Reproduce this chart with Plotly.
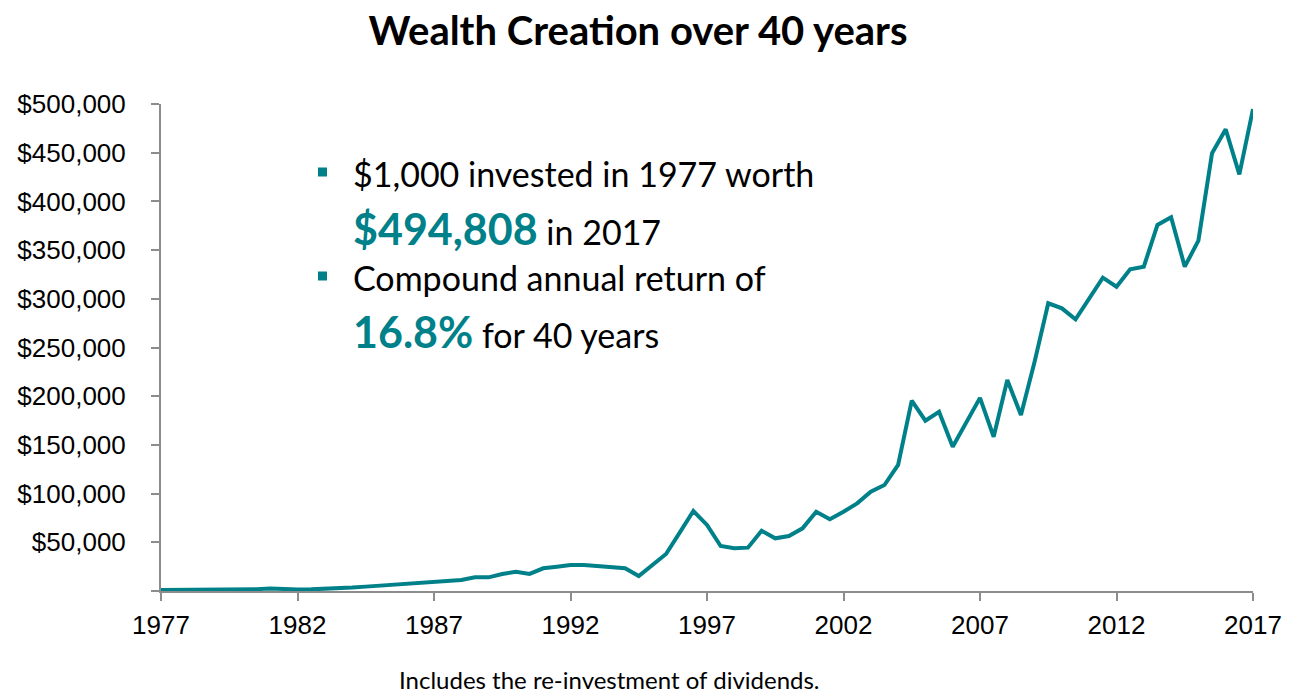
import plotly.graph_objects as go

# Semiannual observations, 1977.0 .. 2017.0
years = [1977 + 0.5 * i for i in range(81)]
values = [
    1000, 1000, 1000, 1100, 1200, 1500, 1700, 1900, 2500, 1800,   # 1977.0-1981.5
    1600, 1700, 2000, 2600, 3500, 4500, 5500, 6000, 6500, 7500,   # 1982.0-1986.5
    9300, 9600, 11300, 14000, 14000, 17500, 19800, 17500, 23300, 25000,  # 1987.0-1991.5
    26700, 26700, 25700, 24600, 23300, 15400, 27000, 38000, 60000, 82100,  # 1992.0-1996.5
    67800, 46200, 43800, 44500, 61900, 54100, 56500, 64300, 81400, 73600,  # 1997.0-2001.5
    81400, 90000, 102000, 108800, 129400, 195400, 174900, 184000, 148200, 173000,  # 2002.0-2006.5
    198300, 158400, 216600, 180700, 235400, 295400, 290200, 279000, 299500, 321700,  # 2007.0-2011.5
    312400, 330300, 333000, 375800, 383700, 333000, 359700, 449400, 474000, 427800,  # 2012.0-2016.5
    494808,                                                                  # 2017.0
]

x_ticks = [1977, 1982, 1987, 1992, 1997, 2002, 2007, 2012, 2017]
y_ticks = [0, 50000, 100000, 150000, 200000, 250000, 300000, 350000, 400000, 450000, 500000]
y_labels = [""] + ["${:,}".format(v) for v in y_ticks[1:]]

title_text = "<b>Wealth Creation over 40 years</b>"
bullet_lines = [
    "$1,000 invested in 1977 worth",
    "<b><span style='font-size:43px;color:#00818A'>$494,808</span></b> in 2017",
    "Compound annual return of",
    "<b><span style='font-size:43px;color:#00818A'>16.8%</span></b> for 40 years",
]
footnote = "Includes the re-investment of dividends."

TEAL = "#00818A"
AXIS = "#8C8C8C"
W, H = 1297, 693
L, R, T, B = 161, 44, 104, 102
PW, PH = W - L - R, H - T - B


def px(xp):
    return (xp - L) / PW


def py(yp):
    return (H - B - yp) / PH


fig = go.Figure()
fig.add_trace(go.Scatter(x=years, y=values, mode="lines",
                         line=dict(color=TEAL, width=4), hoverinfo="skip",
                         showlegend=False))

tick_font = dict(family="Liberation Sans, Arial, sans-serif", size=26, color="#000000")

fig.update_layout(
    width=W, height=H,
    margin=dict(l=L, r=R, t=T, b=B),
    paper_bgcolor="white", plot_bgcolor="white",
    title=dict(text=title_text, x=638 / W, xanchor="center", y=1 - 31 / H,
               yanchor="middle", yref="container",
               font=dict(family="Lato, Open Sans, sans-serif", size=40, color="#000000")),
    xaxis=dict(range=[1977, 2017], tickvals=x_ticks, ticktext=[str(v) for v in x_ticks],
               showgrid=False, zeroline=False, showline=True, linecolor=AXIS, linewidth=2,
               ticks="outside", ticklen=8, tickwidth=2, tickcolor=AXIS,
               tickfont=tick_font, ticklabelstandoff=2),
    yaxis=dict(range=[0, 500000], tickvals=y_ticks, ticktext=y_labels,
               showgrid=False, zeroline=False, showline=True, linecolor=AXIS, linewidth=2,
               ticks="outside", ticklen=8, tickwidth=2, tickcolor=AXIS,
               tickfont=tick_font, ticklabelstandoff=20),
)

text_font = dict(family="Lato, Open Sans, sans-serif", size=34, color="#000000")
line_y = [173, 228, 277, 331]
for txt, yy in zip(bullet_lines, line_y):
    fig.add_annotation(text=txt, xref="paper", yref="paper", x=px(351), y=py(yy),
                       xanchor="left", yanchor="middle", showarrow=False, font=text_font)

for yy in (172, 276):
    fig.add_shape(type="rect", xref="paper", yref="paper",
                  x0=px(318), x1=px(327), y0=py(yy + 4.5), y1=py(yy - 4.5),
                  fillcolor=TEAL, line=dict(width=0))

fig.add_annotation(text=footnote, xref="paper", yref="paper", x=px(609), y=py(679),
                   xanchor="center", yanchor="middle", showarrow=False,
                   font=dict(family="Lato, Open Sans, sans-serif", size=24, color="#000000"))

fig.write_html("out.html")
